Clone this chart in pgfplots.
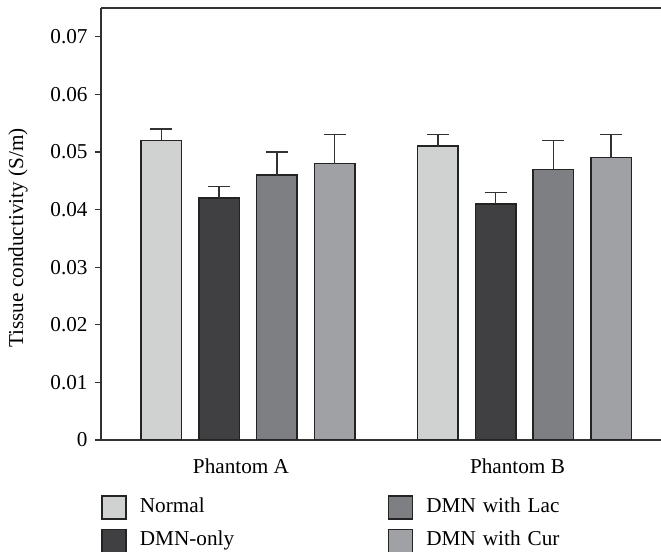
\documentclass[border=0pt]{standalone}
\usepackage{fontspec}
\setmainfont{Liberation Serif}
\usepackage{pgfplots}
\pgfplotsset{compat=1.18}
\definecolor{cNormal}{RGB}{208,209,209}
\definecolor{cDMN}{RGB}{64,64,66}
\definecolor{cLac}{RGB}{126,127,131}
\definecolor{cCur}{RGB}{160,161,164}
\definecolor{cEdge}{RGB}{35,35,35}
\definecolor{cAxis}{RGB}{50,50,50}
\pgfplotsset{myerr/.style={error bars/.cd, y dir=plus, y explicit,
  error bar style={line width=0.7pt, cAxis},
  error mark options={rotate=90, mark size=5.5pt, line width=0.7pt, cAxis}}}
\begin{document}
\fontsize{10.6}{12.7}\selectfont
\begin{tikzpicture}
\begin{axis}[
 name=ax,
 scale only axis, width=280pt, height=216pt,
 xmin=-0.5316, xmax=1.4937, ymin=0, ymax=0.075,
 axis x line*=box, axis y line*=left,
 axis line style={cAxis, line width=0.65pt},
 ybar=8.6pt, bar width=20.25pt,
 xtick={0,1}, xticklabels={Phantom A, Phantom B},
 x tick style={draw=none},
 xticklabel style={xshift=-3.5pt, yshift=-2.5pt},
 ytick={0,0.01,0.02,0.03,0.04,0.05,0.06,0.07},
 yticklabels={0,0.01,0.02,0.03,0.04,0.05,0.06,0.07},
 y tick style={cAxis, line width=0.65pt},
 tick align=outside, major tick length=3pt,
 ylabel={Tissue conductivity (S/m)},
 ylabel style={at={(axis description cs:-0.1482,0.4676)}, anchor=center},
 legend columns=2, transpose legend,
 legend cell align=left,
 legend style={draw=none, fill=none, inner sep=0pt, at={(0,0)}, anchor=north west,
   yshift=-27.5pt, row sep=4.5pt,
   nodes={inner sep=0pt, text width=124pt, align=left, text height=7pt, text depth=2.5pt},
   /tikz/every odd column/.append style={column sep=6.5pt},
   /tikz/every even column/.append style={column sep=0pt}},
 legend image code/.code={\draw[#1, line width=0.75pt] (0pt,-5.75pt) rectangle (12pt,5.75pt);},
]
\addplot[fill=cNormal, draw=cEdge, line width=0.75pt, myerr] coordinates {(0,0.052) +- (0,0.002) (1,0.051) +- (0,0.002)};
\addplot[fill=cDMN, draw=cEdge, line width=0.75pt, myerr] coordinates {(0,0.042) +- (0,0.002) (1,0.041) +- (0,0.002)};
\addplot[fill=cLac, draw=cEdge, line width=0.75pt, myerr] coordinates {(0,0.046) +- (0,0.004) (1,0.047) +- (0,0.005)};
\addplot[fill=cCur, draw=cEdge, line width=0.75pt, myerr] coordinates {(0,0.048) +- (0,0.005) (1,0.049) +- (0,0.004)};
\legend{Normal, DMN-only, DMN with Lac, DMN with Cur}
\end{axis}
\pgfresetboundingbox
\path[use as bounding box] ([shift={(-50.5pt,-56pt)}]ax.south west) rectangle ([shift={(0pt,4pt)}]ax.north east);
\end{tikzpicture}
\end{document}
